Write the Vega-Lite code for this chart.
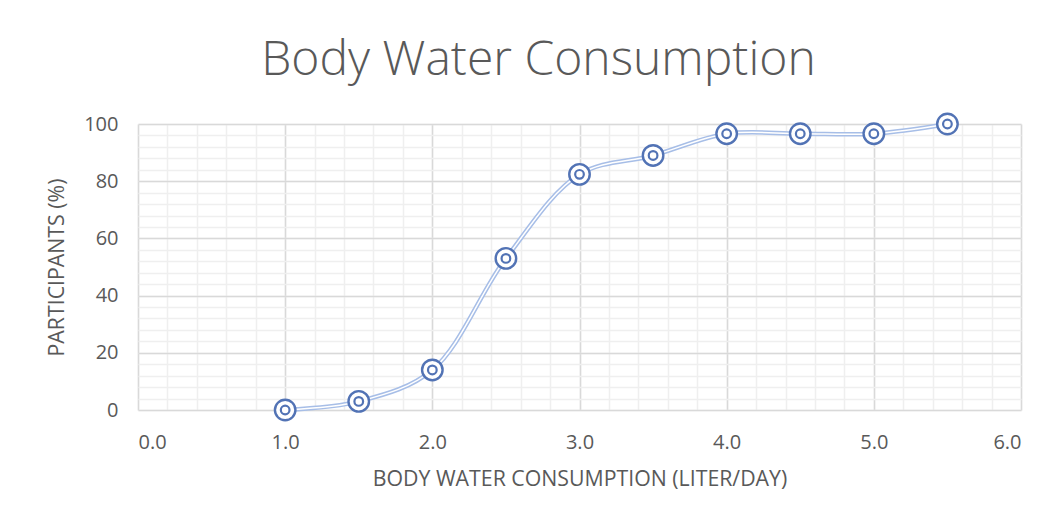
{
  "$schema": "https://vega.github.io/schema/vega-lite/v6.json",
  "width": 883,
  "height": 286,
  "autosize": {"type": "none"},
  "padding": {"left": 138, "top": 124, "right": 38, "bottom": 111},
  "background": "white",
  "config": {
    "view": {"stroke": null},
    "font": "Open Sans",
    "axis": {"labelColor": "#595959", "titleColor": "#595959", "labelFont": "Open Sans", "titleFont": "Open Sans"}
  },
  "title": {
    "text": "Body Water Consumption",
    "fontSize": 48,
    "fontWeight": 300,
    "color": "#595959",
    "anchor": "middle",
    "baseline": "alphabetic",
    "offset": -14,
    "dx": -41
  },
  "data": {
    "values": [
      {"liters": 1.0, "pct": 0},
      {"liters": 1.5, "pct": 3},
      {"liters": 2.0, "pct": 14},
      {"liters": 2.5, "pct": 53},
      {"liters": 3.0, "pct": 82.4},
      {"liters": 3.5, "pct": 89},
      {"liters": 4.0, "pct": 96.6},
      {"liters": 4.5, "pct": 96.6},
      {"liters": 5.0, "pct": 96.6},
      {"liters": 5.5, "pct": 100}
    ]
  },
  "layer": [
    {
      "mark": {"type": "line", "interpolate": "catmull-rom", "color": "#a7bee7", "strokeWidth": 4.5},
      "encoding": {
        "x": {"field": "liters", "type": "quantitative", "scale": {"domain": [0, 6], "nice": false},
          "axis": {"orient": "bottom", "values": [0,0.2,0.4,0.6,0.8,1,1.2,1.4,1.6,1.8,2,2.2,2.4,2.6,2.8,3,3.2,3.4,3.6,3.8,4,4.2,4.4,4.6,4.8,5,5.2,5.4,5.6,5.8,6],
            "grid": true, "gridColor": "#efefef", "gridWidth": 1.5, "labels": false, "ticks": false, "domain": false, "title": null}},
        "y": {"field": "pct", "type": "quantitative", "scale": {"domain": [0, 100], "nice": false},
          "axis": {"orient": "left", "values": [0,4,8,12,16,20,24,28,32,36,40,44,48,52,56,60,64,68,72,76,80,84,88,92,96,100],
            "grid": true, "gridColor": "#efefef", "gridWidth": 1.5, "labels": false, "ticks": false, "domain": false, "title": null}}
      }
    },
    {
      "mark": {"type": "line", "interpolate": "catmull-rom", "color": "white", "strokeWidth": 1.5},
      "encoding": {
        "x": {"field": "liters", "type": "quantitative",
          "axis": {"orient": "bottom", "values": [0,1,2,3,4,5,6], "format": ".1f", "grid": true, "gridColor": "#d9d9d9", "gridWidth": 1.5,
            "ticks": false, "domain": false, "labelFontSize": 20, "labelPadding": 22,
            "title": "BODY WATER CONSUMPTION (LITER/DAY)", "titleFontSize": 21.3, "titleFontWeight": "normal", "titlePadding": 16}},
        "y": {"field": "pct", "type": "quantitative",
          "axis": {"orient": "left", "values": [0,20,40,60,80,100], "grid": true, "gridColor": "#d9d9d9", "gridWidth": 1.5,
            "ticks": false, "domain": false, "labelFontSize": 20, "labelPadding": 20,
            "title": "PARTICIPANTS (%)", "titleFontSize": 21.3, "titleFontWeight": "normal", "titlePadding": 16}}
      }
    },
    {
      "mark": {"type": "point", "shape": "circle", "filled": false, "fill": "white", "fillOpacity": 1, "stroke": "#5273b5", "strokeWidth": 2.4, "size": 420, "opacity": 1},
      "encoding": {
        "x": {"field": "liters", "type": "quantitative", "axis": null},
        "y": {"field": "pct", "type": "quantitative", "axis": null}
      }
    },
    {
      "mark": {"type": "point", "shape": "circle", "filled": false, "stroke": "#5273b5", "strokeWidth": 2.2, "size": 75, "opacity": 1},
      "encoding": {
        "x": {"field": "liters", "type": "quantitative", "axis": null},
        "y": {"field": "pct", "type": "quantitative", "axis": null}
      }
    }
  ],
  "resolve": {"axis": {"x": "independent", "y": "independent"}}
}
